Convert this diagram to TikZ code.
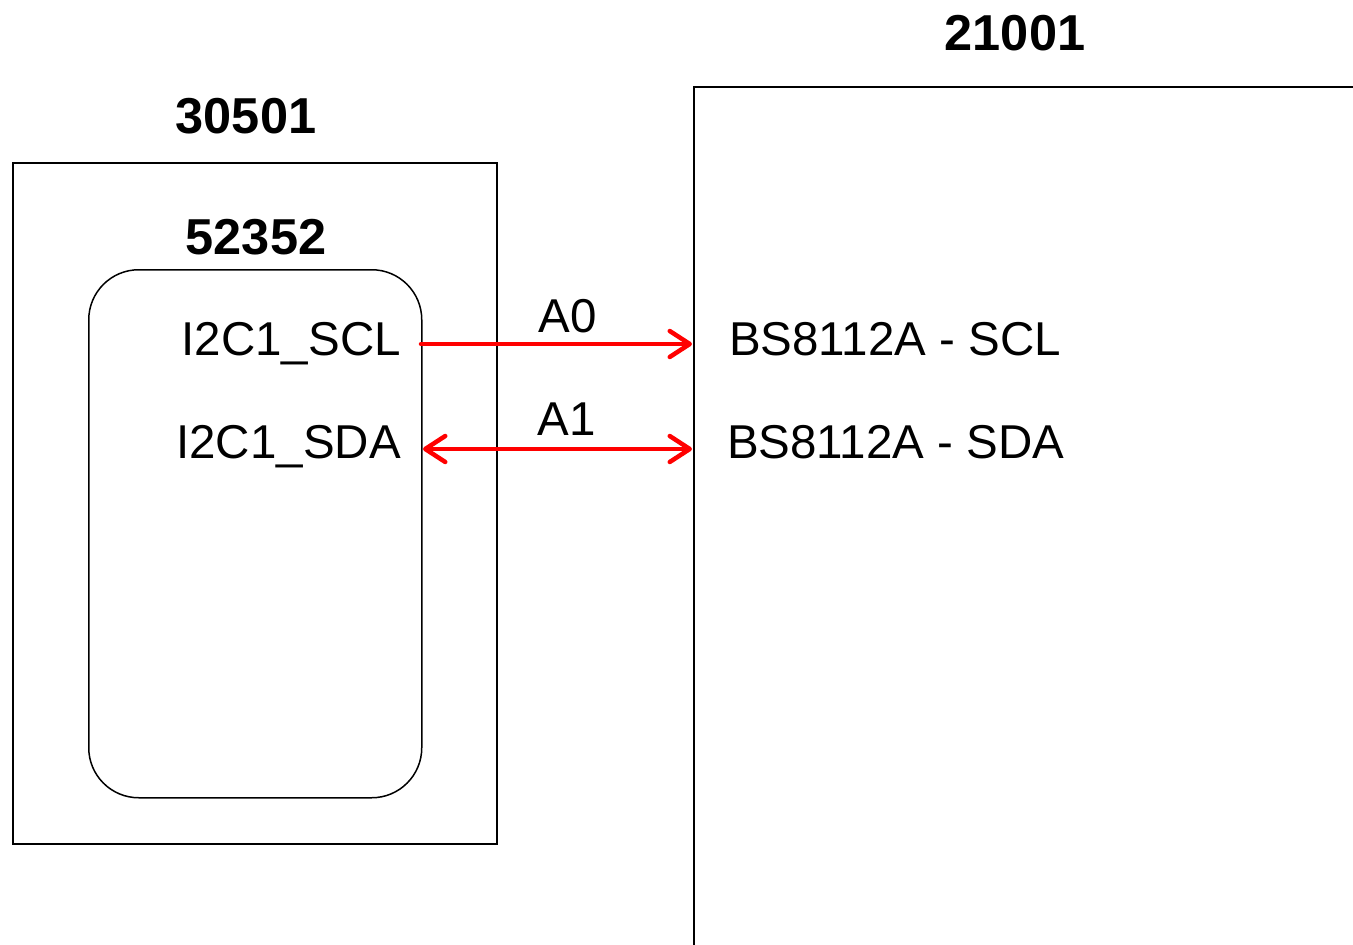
\documentclass[tikz,border=0pt]{standalone}
\usepackage{fontspec}
\setmainfont{Liberation Sans}
\usetikzlibrary{arrows.meta}
\begin{document}
\begin{tikzpicture}[x=1pt,y=-1pt,
  box/.style={draw=black,line width=1.5pt},
  title/.style={font=\fontsize{50.5}{60}\selectfont\bfseries,inner sep=0pt,anchor=base},
  lbl/.style={font=\fontsize{47.5}{56}\selectfont,inner sep=0pt},
  sig/.style={draw=red,line width=4.5pt,line cap=round},
  tip/.style={Straight Barb[length=20pt,width=26pt,line cap=round,line join=round]}]
\useasboundingbox (0,0) rectangle (1353,945);
% outer left box
\node[box,minimum width=484pt,minimum height=681pt,anchor=north west,inner sep=0pt] (outer) at (12,162) {};
% inner rounded box
\node[box,rounded corners=50pt,minimum width=333pt,minimum height=528pt,anchor=north west,inner sep=0pt] (inner) at (88,269) {};
% right box (partially visible)
\coordinate (rtr) at (1353,87);
\coordinate (rtl) at (694,87);
\coordinate (rbl) at (694,945);
\draw[line width=1.5pt] (rtr) -- (rtl) -- (rbl);
% titles
\node[title] (t1) at (246,133) {30501};
\node[title] (t2) at (256,254) {52352};
\node[title] (t3) at (1015,50) {21001};
% pin labels
\node[lbl,anchor=base east] (scl) at (401,355) {I2C1\_SCL};
\node[lbl,anchor=base east] (sda) at (401,458) {I2C1\_SDA};
\node[lbl,anchor=base west] (bscl) at (729,355) {BS8112A - SCL};
\node[lbl,anchor=base west] (bsda) at (727,458) {BS8112A - SDA};
% connection endpoints
\coordinate (p1) at (421,344);
\coordinate (q1) at (692,344);
\coordinate (p2) at (423,449);
\coordinate (q2) at (692,449);
\draw[sig,-{Straight Barb[length=20pt,width=26pt,line cap=round,line join=round]}] (p1) -- (q1);
\draw[sig,{Straight Barb[length=20pt,width=26pt,line cap=round,line join=round]}-{Straight Barb[length=20pt,width=26pt,line cap=round,line join=round]}] (p2) -- (q2);
\node[lbl,anchor=base] (a0) at (568,332) {A0};
\node[lbl,anchor=base] (a1) at (567,435) {A1};
\end{tikzpicture}
\end{document}
